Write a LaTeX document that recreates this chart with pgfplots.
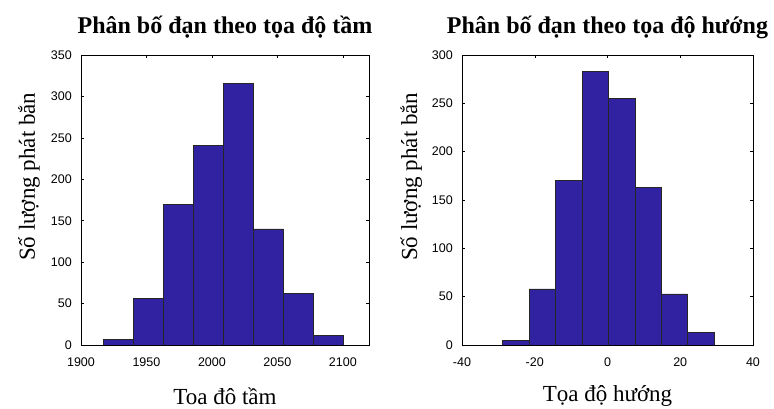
\documentclass[border=0pt]{standalone}
\usepackage{pgfplots}
\pgfplotsset{compat=1.18}
\usepackage{fontspec}
\setmainfont{Liberation Serif}
\newfontfamily\tickfont{Liberation Sans}
\definecolor{barblue}{RGB}{48,34,160}
\pgfplotsset{hist/.style={
  scale only axis, width=288pt, height=290pt,
  anchor=south west,
  ymin=0,
  tick align=inside, xtick pos=both, ytick pos=both,
  xticklabel pos=left, yticklabel pos=left,
  major tick length=3pt,
  axis line style={line width=0.6pt},
  every tick/.style={line width=0.5pt},
  tick label style={font=\fontsize{12.5}{14}\selectfont\tickfont},
  /pgf/number format/assume math mode=true,
  /pgf/number format/set thousands separator={},
  xticklabel style={anchor=base, yshift=-22pt, inner sep=0pt},
  yticklabel style={anchor=east, xshift=-9pt, inner sep=0pt},
  title style={font=\fontsize{24}{27}\selectfont\bfseries, at={(axis description cs:0.5,1)}, anchor=base, yshift=15pt},
  xlabel style={font=\fontsize{23}{26}\selectfont, at={(axis description cs:0.5,0)}, anchor=base},
  ylabel style={font=\fontsize{23}{26}\selectfont, at={(axis description cs:0,0.58)}, anchor=base},
}}
\begin{document}
\begin{tikzpicture}[x=1pt,y=1pt]
\useasboundingbox (0,0) rectangle (774,409);
\begin{axis}[hist, at={(81pt,64pt)},
  xmin=1900, xmax=2120, ymax=350,
  xtick={1900,1950,2000,2050,2100},
  ytick={0,50,100,150,200,250,300,350},
  title={Phân bố đạn theo tọa độ tầm},
  xlabel={Toa đô tầm}, xlabel style={yshift=-60pt},
  ylabel={Số lượng phát bắn}, ylabel style={yshift=46pt}]
\addplot[ybar interval, fill=barblue, draw=black!85, line width=0.5pt]
  coordinates {(1917.3,7) (1940.1,56) (1962.9,170) (1985.7,241) (2008.6,316) (2031.5,140) (2054.6,62) (2077.6,12) (2100.6,0)};
\end{axis}
\begin{axis}[hist, at={(462pt,64pt)}, width=291pt,
  xmin=-40, xmax=40, ymax=300,
  xtick={-40,-20,0,20,40},
  ytick={0,50,100,150,200,250,300},
  title={Phân bố đạn theo tọa độ hướng},
  xlabel={Tọa độ hướng}, xlabel style={yshift=-57pt},
  ylabel={Số lượng phát bắn}, ylabel style={yshift=45pt}]
\addplot[ybar interval, fill=barblue, draw=black!85, line width=0.5pt]
  coordinates {(-28.8,5) (-21.55,58) (-14.3,170) (-7.0,283) (0.25,255) (7.5,163) (14.75,53) (22.0,13) (29.3,0)};
\end{axis}
\end{tikzpicture}
\end{document}
